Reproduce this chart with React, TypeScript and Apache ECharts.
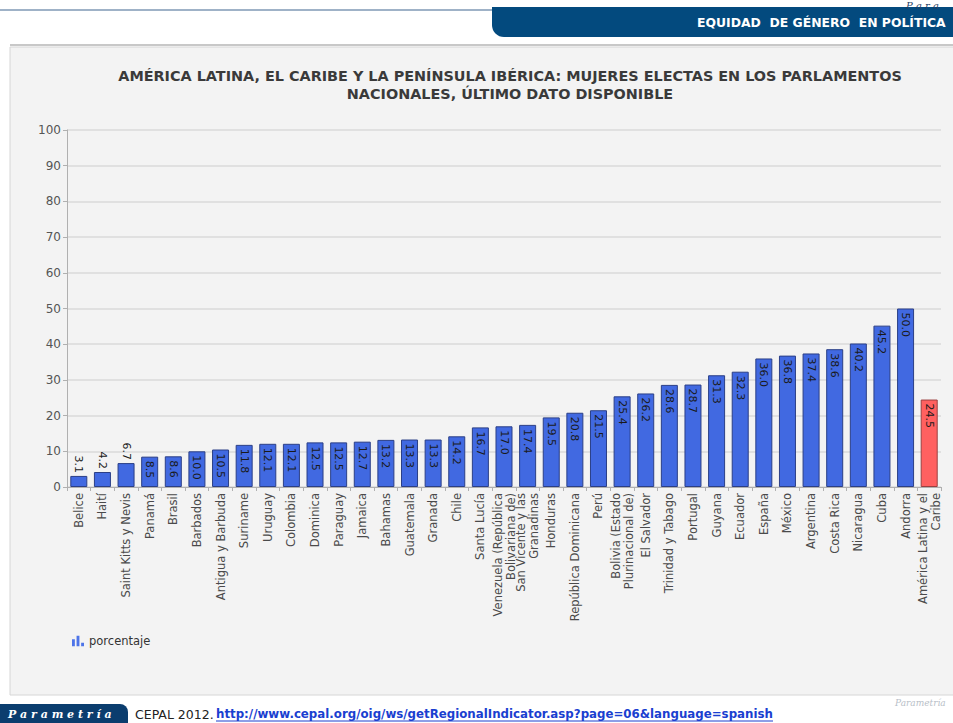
import React, { useEffect, useRef } from "react";
import * as echarts from "echarts";

const categories = [
  "Belice", "Haití", "Saint Kitts y Nevis", "Panamá", "Brasil", "Barbados",
  "Antigua y Barbuda", "Suriname", "Uruguay", "Colombia", "Dominica", "Paraguay",
  "Jamaica", "Bahamas", "Guatemala", "Granada", "Chile", "Santa Lucía",
  "Venezuela (República\nBolivariana de)", "San Vicente y las\nGranadinas", "Honduras",
  "República Dominicana", "Perú", "Bolivia (Estado\nPlurinacional de)", "El Salvador",
  "Trinidad y Tabago", "Portugal", "Guyana", "Ecuador", "España", "México",
  "Argentina", "Costa Rica", "Nicaragua", "Cuba", "Andorra", "América Latina y el\nCaribe",
];

const porcentaje = [
  3.1, 4.2, 6.7, 8.5, 8.6, 10.0, 10.5, 11.8, 12.1, 12.1, 12.5, 12.5, 12.7, 13.2,
  13.3, 13.3, 14.2, 16.7, 17.0, 17.4, 19.5, 20.8, 21.5, 25.4, 26.2, 28.6, 28.7,
  31.3, 32.3, 36.0, 36.8, 37.4, 38.6, 40.2, 45.2, 50.0, 24.5,
];

const highlighted = ["América Latina y el\nCaribe"];
const yTicks = { min: 0, max: 100, interval: 10 };

const TITLE =
  "AMÉRICA LATINA, EL CARIBE Y LA PENÍNSULA IBÉRICA: MUJERES ELECTAS EN LOS PARLAMENTOS\nNACIONALES, ÚLTIMO DATO DISPONIBLE";

export default function App() {
  const ref = useRef<HTMLDivElement>(null);

  useEffect(() => {
    if (!ref.current) return;
    const chart = echarts.init(ref.current, undefined, { renderer: "svg" });

    const data = porcentaje.map((v, i) => {
      const red = highlighted.includes(categories[i]);
      const small = v < 8;
      return {
        value: v,
        itemStyle: red ? { color: "#ff6060", borderColor: "#9a4040" } : undefined,
        label: small
          ? { position: "top", align: "right", verticalAlign: "middle", distance: 3 }
          : { position: "insideTop", align: "left", verticalAlign: "middle", distance: 4 },
      };
    });

    const option: any = {
      animation: false,
      backgroundColor: "#ffffff",
      title: {
        text: TITLE,
        left: 505,
        top: 62,
        textAlign: "center",
        textStyle: {
          fontFamily: "DejaVu Sans",
          fontWeight: "bold",
          fontSize: 14.4,
          color: "#3a3a3a",
          lineHeight: 18,
        },
      },
      legend: {
        left: 67,
        top: 630,
        itemWidth: 12,
        itemHeight: 11,
        itemGap: 6,
        icon: "path://M0,4H2.5V10H0Z M4,1H6.5V10H4Z M8,7H10.5V10H8Z",
        itemStyle: { color: "#4d74e8", borderWidth: 0 },
        textStyle: { fontFamily: "DejaVu Sans", fontSize: 11.5, color: "#333" },
        data: ["porcentaje"],
      },
      graphic: [
        // panel
        { type: "rect", z: 0, shape: { x: 10, y: 47, width: 950, height: 648 }, style: { fill: "#f3f3f3", stroke: "#d6d6d6", lineWidth: 1 } },
        { type: "line", z: 0, shape: { x1: 10, y1: 45, x2: 953, y2: 45 }, style: { stroke: "#c8c8c8", lineWidth: 2 } },
        // top decorative line
        { type: "line", z: 0, shape: { x1: 0, y1: 10, x2: 495, y2: 10 }, style: { stroke: "#7f98b5", lineWidth: 1.5 } },
        // banner
        { type: "rect", z: 0, shape: { x: 492, y: 7, width: 470, height: 30, r: [0, 0, 0, 12] }, style: { fill: "#034a7e" } },
        {
          type: "text", z: 1, x: 697, y: 22,
          style: { text: "EQUIDAD  DE GÉNERO  EN POLÍTICA", fill: "#ffffff", font: "bold 12.4px 'DejaVu Sans'", verticalAlign: "middle" },
        },
        {
          type: "text", z: 1, x: 906, y: 0,
          style: { text: "P a r a", fill: "#1f3f66", font: "italic 10px 'DejaVu Serif'", verticalAlign: "top" },
        },
        // footer
        { type: "rect", z: 0, shape: { x: 0, y: 704, width: 128, height: 19, r: [0, 8, 0, 0] }, style: { fill: "#0b3d6e" } },
        {
          type: "text", z: 1, x: 8, y: 714,
          style: { text: "P a r a m e t r í a", fill: "#ffffff", font: "italic bold 11px 'DejaVu Serif'", verticalAlign: "middle" },
        },
        {
          type: "text", z: 1, x: 135, y: 714,
          style: { text: "CEPAL 2012.", fill: "#222", font: "12.5px 'DejaVu Sans'", verticalAlign: "middle" },
        },
        {
          type: "text", z: 1, x: 216, y: 714,
          style: {
            text: "http://www.cepal.org/oig/ws/getRegionalIndicator.asp?page=06&language=spanish",
            fill: "#1a3fd0",
            font: "bold 11.8px 'DejaVu Sans'",
            verticalAlign: "middle",
          },
        },
        { type: "line", z: 1, shape: { x1: 216, y1: 721, x2: 773, y2: 721 }, style: { stroke: "#1a3fd0", lineWidth: 1 } },
        {
          type: "text", z: 1, x: 895, y: 703,
          style: { text: "Parametría", fill: "#b8c0c8", font: "italic 9px 'DejaVu Serif'", verticalAlign: "middle" },
        },
      ],
      grid: {
        left: 67,
        right: 12,
        top: 130,
        bottom: 236,
        show: true,
        backgroundColor: "#ffffff",
        borderColor: "#d0d0d0",
        borderWidth: 1,
      },
      xAxis: {
        type: "category",
        data: categories,
        axisLine: { lineStyle: { color: "#b0b0b0" } },
        axisTick: { show: true, length: 4, lineStyle: { color: "#b0b0b0" } },
        axisLabel: {
          interval: 0,
          rotate: 90,
          margin: 6,
          fontFamily: "DejaVu Sans",
          fontSize: 11.5,
          lineHeight: 13,
          color: "#4a4a4a",
        },
      },
      yAxis: {
        type: "value",
        min: yTicks.min,
        max: yTicks.max,
        interval: yTicks.interval,
        axisLine: { show: true, lineStyle: { color: "#b0b0b0" } },
        axisTick: { show: true, length: 4, lineStyle: { color: "#b0b0b0" } },
        axisLabel: { fontFamily: "DejaVu Sans", fontSize: 12, color: "#555", margin: 6 },
        splitLine: { lineStyle: { color: "#e0e0e0", width: 1.8 } },
      },
      series: [
        {
          name: "porcentaje",
          type: "bar",
          data,
          barCategoryGap: "28%",
          itemStyle: { color: "#4169e1", borderColor: "#2b3f86", borderWidth: 1 },
          label: {
            show: true,
            rotate: -90,
            formatter: (p: any) => Number(p.value).toFixed(1),
            fontFamily: "DejaVu Sans",
            fontSize: 11,
            color: "#1a1a1a",
          },
        },
      ],
    };

    chart.setOption(option);
    return () => chart.dispose();
  }, []);

  return (
    <div
      ref={ref}
      style={{ position: "fixed", left: 0, top: 0, width: 953, height: 723 }}
    />
  );
}
